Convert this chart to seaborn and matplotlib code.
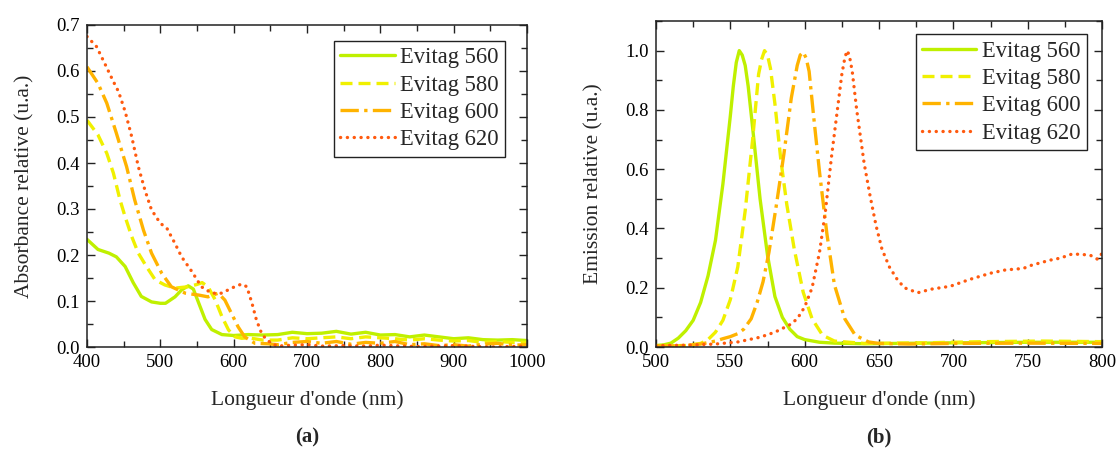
import matplotlib
matplotlib.use("Agg")
import matplotlib.pyplot as plt
import seaborn as sns
import numpy as np
from matplotlib.ticker import MultipleLocator, FormatStrFormatter

# ---------------- data ----------------
series_names = ["Evitag 560", "Evitag 580", "Evitag 600", "Evitag 620"]

# (a) absorbance
abs_x_560 = [400, 415, 430, 440, 452, 463, 474, 488, 500, 507, 520, 529, 538, 545, 552, 561, 570, 584, 600,
             620, 640, 660, 680, 700, 720, 740, 760, 780, 800, 820, 840, 860, 880, 900, 920, 940, 960, 980, 1000]
abs_y_560 = [0.234, 0.212, 0.204, 0.196, 0.175, 0.140, 0.110, 0.098, 0.095, 0.095, 0.109, 0.124, 0.133, 0.126,
             0.097, 0.060, 0.038, 0.027, 0.025, 0.027, 0.026, 0.027, 0.032, 0.029, 0.030, 0.034, 0.028, 0.032,
             0.026, 0.027, 0.022, 0.026, 0.022, 0.018, 0.020, 0.016, 0.015, 0.016, 0.014]

abs_x_580 = [400, 415, 427, 436, 445, 452, 461, 470, 481, 493, 506, 520, 538, 550, 557, 565, 575, 584, 593,
             602, 611, 620, 640, 660, 680, 700, 720, 740, 760, 780, 800, 820, 840, 860, 880, 900, 920, 940,
             960, 980, 1000]
abs_y_580 = [0.493, 0.461, 0.421, 0.378, 0.320, 0.283, 0.240, 0.204, 0.175, 0.146, 0.135, 0.128, 0.131, 0.136,
             0.140, 0.131, 0.102, 0.066, 0.037, 0.022, 0.019, 0.020, 0.015, 0.015, 0.020, 0.018, 0.020, 0.022,
             0.018, 0.022, 0.020, 0.018, 0.015, 0.018, 0.015, 0.013, 0.014, 0.010, 0.012, 0.010, 0.010]

abs_x_600 = [400, 415, 427, 440, 454, 465, 477, 488, 502, 515, 534, 552, 565, 579, 588, 597, 606, 615, 629,
             647, 660, 680, 700, 720, 740, 760, 780, 800, 820, 840, 860, 880, 900, 920, 940, 960, 980, 1000]
abs_y_600 = [0.609, 0.573, 0.530, 0.465, 0.392, 0.320, 0.254, 0.204, 0.160, 0.131, 0.117, 0.113, 0.109, 0.117,
             0.102, 0.073, 0.044, 0.022, 0.008, 0.007, 0.005, 0.010, 0.012, 0.008, 0.012, 0.006, 0.010, 0.008,
             0.012, 0.005, 0.007, 0.003, 0.005, 0.002, 0.006, 0.008, 0.004, 0.005]

abs_x_620 = [400, 413, 424, 436, 443, 452, 461, 470, 479, 488, 500, 509, 520, 529, 543, 556, 570, 584, 597,
             611, 618, 625, 631, 638, 645, 659, 680, 700, 720, 750, 780, 800, 850, 900, 950, 1000]
abs_y_620 = [0.675, 0.653, 0.617, 0.577, 0.555, 0.512, 0.457, 0.392, 0.341, 0.298, 0.269, 0.258, 0.225, 0.196,
             0.164, 0.131, 0.117, 0.117, 0.128, 0.137, 0.131, 0.095, 0.059, 0.030, 0.015, 0.002, 0.004, 0.005,
             0.002, 0.003, 0.002, 0.004, 0.001, 0.003, 0.000, 0.002]

# (b) emission
em_x_560 = [500, 505, 510, 515, 520, 525, 530, 535, 540, 545, 550, 552, 554, 556, 558, 560, 562, 565, 570,
            575, 580, 585, 590, 595, 600, 610, 620, 640, 660, 700, 750, 800]
em_y_560 = [0.005, 0.007, 0.013, 0.030, 0.055, 0.090, 0.150, 0.240, 0.360, 0.550, 0.780, 0.880, 0.960, 1.000,
            0.985, 0.950, 0.880, 0.740, 0.500, 0.310, 0.170, 0.100, 0.060, 0.035, 0.025, 0.016, 0.013, 0.011,
            0.012, 0.014, 0.016, 0.016]

em_x_580 = [500, 520, 530, 535, 540, 545, 550, 555, 560, 565, 569, 571, 573, 575, 577, 580, 584, 588, 593,
            599, 605, 612, 620, 640, 680, 720, 760, 800]
em_y_580 = [0.003, 0.005, 0.012, 0.025, 0.050, 0.090, 0.160, 0.270, 0.460, 0.700, 0.920, 0.970, 1.000, 0.985,
            0.940, 0.820, 0.630, 0.480, 0.330, 0.185, 0.095, 0.040, 0.020, 0.012, 0.014, 0.018, 0.020, 0.018]

em_x_600 = [500, 520, 530, 540, 545, 550, 555, 559, 564, 568, 572, 576, 581, 586, 591, 595, 597, 599, 601,
            603, 606, 610, 615, 620, 627, 634, 643, 650, 670, 700, 750, 800]
em_y_600 = [0.003, 0.005, 0.010, 0.020, 0.028, 0.035, 0.045, 0.060, 0.095, 0.150, 0.220, 0.320, 0.480, 0.650,
            0.840, 0.950, 0.985, 0.995, 0.975, 0.930, 0.780, 0.590, 0.380, 0.210, 0.095, 0.040, 0.017, 0.012,
            0.010, 0.012, 0.013, 0.012]

em_x_620 = [500, 520, 540, 555, 570, 580, 590, 595, 600, 605, 610, 614, 618, 622, 625, 627, 628.5, 630, 632,
            635, 640, 644, 648, 652, 657, 662, 667, 676, 685, 698, 711, 725, 735, 747, 752, 765, 772, 780,
            787, 792, 797, 800]
em_y_620 = [0.005, 0.006, 0.010, 0.017, 0.033, 0.050, 0.075, 0.095, 0.135, 0.200, 0.320, 0.460, 0.640, 0.800,
            0.920, 0.975, 1.000, 0.985, 0.930, 0.800, 0.620, 0.510, 0.410, 0.330, 0.270, 0.230, 0.200, 0.183,
            0.195, 0.205, 0.228, 0.249, 0.260, 0.265, 0.275, 0.293, 0.300, 0.314, 0.312, 0.310, 0.296, 0.316]

# ---------------- style ----------------
sns.set_theme(style="ticks")
plt.rcParams["font.family"] = ["Liberation Serif", "DejaVu Serif"]

colors = ["#bff000", "#f0f000", "#ffb300", "#ff5a0f"]
styles = [dict(linestyle="-"),
          dict(linestyle=(0, (3.6, 1.8))),
          dict(linestyle=(0, (5.5, 1.6, 1.0, 1.6))),
          dict(linestyle=(0, (0.05, 2.0)), dash_capstyle="round")]
LW = 2.4

fig = plt.figure(figsize=(11.18, 4.57), dpi=100)
axA = fig.add_axes([87 / 1118, 1 - 347 / 457, 440 / 1118, 322 / 457])
axB = fig.add_axes([656 / 1118, 1 - 347 / 457, 446 / 1118, 326 / 457])

abs_sets = [(abs_x_560, abs_y_560), (abs_x_580, abs_y_580), (abs_x_600, abs_y_600), (abs_x_620, abs_y_620)]
em_sets = [(em_x_560, em_y_560), (em_x_580, em_y_580), (em_x_600, em_y_600), (em_x_620, em_y_620)]

for ax, sets in ((axA, abs_sets), (axB, em_sets)):
    for (xs, ys), name, c, st in zip(sets, series_names, colors, styles):
        sns.lineplot(x=xs, y=ys, ax=ax, color=c, lw=LW, label=name, estimator=None, sort=False, **st)

def style_axes(ax, xlim, ylim, xmaj, xmin, ymaj, ymin, ylabel):
    ax.set_xlim(*xlim)
    ax.set_ylim(*ylim)
    ax.xaxis.set_major_locator(MultipleLocator(xmaj))
    ax.xaxis.set_minor_locator(MultipleLocator(xmin))
    ax.yaxis.set_major_locator(MultipleLocator(ymaj))
    ax.yaxis.set_minor_locator(MultipleLocator(ymin))
    ax.yaxis.set_major_formatter(FormatStrFormatter("%.1f"))
    ax.tick_params(which="both", direction="in", top=True, right=True, colors="#222222",
                   labelcolor="black", labelsize=13.5, width=1.0)
    ax.tick_params(which="major", length=6, pad=5)
    ax.tick_params(which="minor", length=4)
    for s in ax.spines.values():
        s.set_visible(True)
        s.set_linewidth(1.1)
        s.set_color("#222222")
    ax.set_xlabel("Longueur d'onde (nm)", fontsize=15.5, labelpad=14)
    ax.set_ylabel(ylabel, fontsize=15.5, labelpad=16)

style_axes(axA, (400, 1000), (0, 0.7), 100, 50, 0.1, 0.05, "Absorbance relative (u.a.)")
style_axes(axB, (500, 800), (0, 1.1), 50, 25, 0.2, 0.1, "Emission relative (u.a.)")

for ax, anchor in ((axA, (0.9505, 0.9503)), (axB, (0.966, 0.959))):
    leg = ax.legend(loc="upper right", bbox_to_anchor=anchor, borderaxespad=0, fontsize=16.3,
                    frameon=True, fancybox=False, shadow=False, framealpha=1, edgecolor="#222222",
                    handlelength=2.4, handletextpad=0.25, labelspacing=0.28, borderpad=0.28)
    leg.get_frame().set_linewidth(1.0)

fig.text((87 + 527) / 2 / 1118, 1 - 437 / 457, "(a)", ha="center", va="center",
         fontsize=15, fontweight="bold")
fig.text((656 + 1102) / 2 / 1118, 1 - 437 / 457, "(b)", ha="center", va="center",
         fontsize=15, fontweight="bold")

fig.savefig("out.png", dpi=100)
